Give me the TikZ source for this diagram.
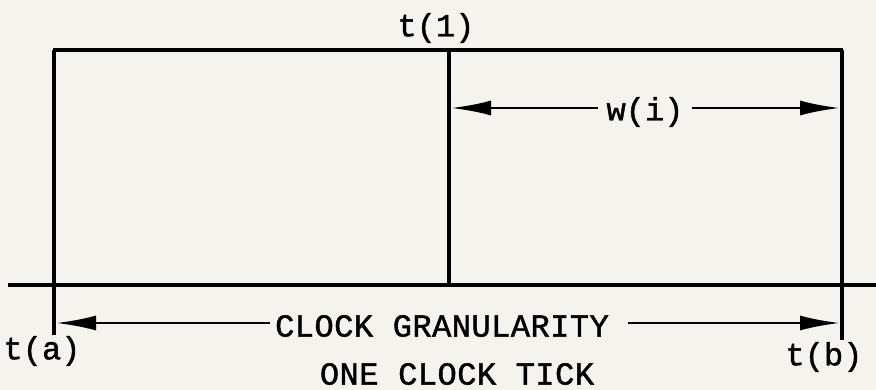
\documentclass[tikz,border=0pt]{standalone}
\usepackage{fontspec}
\setmainfont[FakeBold=1.4]{Liberation Mono}
\usetikzlibrary{arrows.meta}
\definecolor{paper}{RGB}{244,243,238}
\begin{document}
\begin{tikzpicture}[x=1pt,y=-1pt,
  ln/.style={line width=3.2pt},
  arr/.style={line width=2.8pt,-{Latex[length=40pt,width=15pt]}},
  lbl/.style={font=\fontsize{32}{37}\selectfont,inner sep=0pt},
  wide/.style={lbl,font=\fontsize{32}{37}\addfontfeatures{LetterSpace=1.5}}]
\fill[paper] (0,0) rectangle (876,390);
\useasboundingbox (0,0) rectangle (876,390);
% frame
\coordinate (tl) at (53,50);
\coordinate (tr) at (843,50);
\coordinate (lt) at (54,50);
\coordinate (lb) at (54,335);
\coordinate (rt) at (842,50);
\coordinate (rb) at (842,340);
\coordinate (mt) at (449,50);
\coordinate (mb) at (449,285);
\coordinate (bl) at (8,285);
\coordinate (br) at (876,285);
\draw[ln] (tl) -- (tr);
\draw[ln] (lt) -- (lb);
\draw[ln] (rt) -- (rb);
\draw[ln] (mt) -- (mb);
\draw[ln] (bl) -- (br);
% labels
\node[lbl] (t1) at (436,28) {t(1)};
\node[lbl] (ta) at (42,351) {t(a)};
\node[lbl] (tb) at (824,357) {t(b)};
\node[lbl] (wi) at (645,112) {w(i)};
\node[wide] (cg) at (442,326) {CLOCK GRANULARITY};
\node[wide] (oc) at (457,374) {ONE CLOCK TICK};
% w(i) arrows
\coordinate (wls) at (598,108);
\coordinate (wrs) at (692,108);
\coordinate (wl) at (451,108);
\coordinate (wr) at (840,108);
\draw[arr] (wls) -- (wl);
\draw[arr] (wrs) -- (wr);
% clock granularity arrows
\coordinate (cls) at (270,323);
\coordinate (crs) at (628,323);
\coordinate (cl) at (56,323);
\coordinate (cr) at (840,323);
\draw[arr] (cls) -- (cl);
\draw[arr] (crs) -- (cr);
\end{tikzpicture}
\end{document}
